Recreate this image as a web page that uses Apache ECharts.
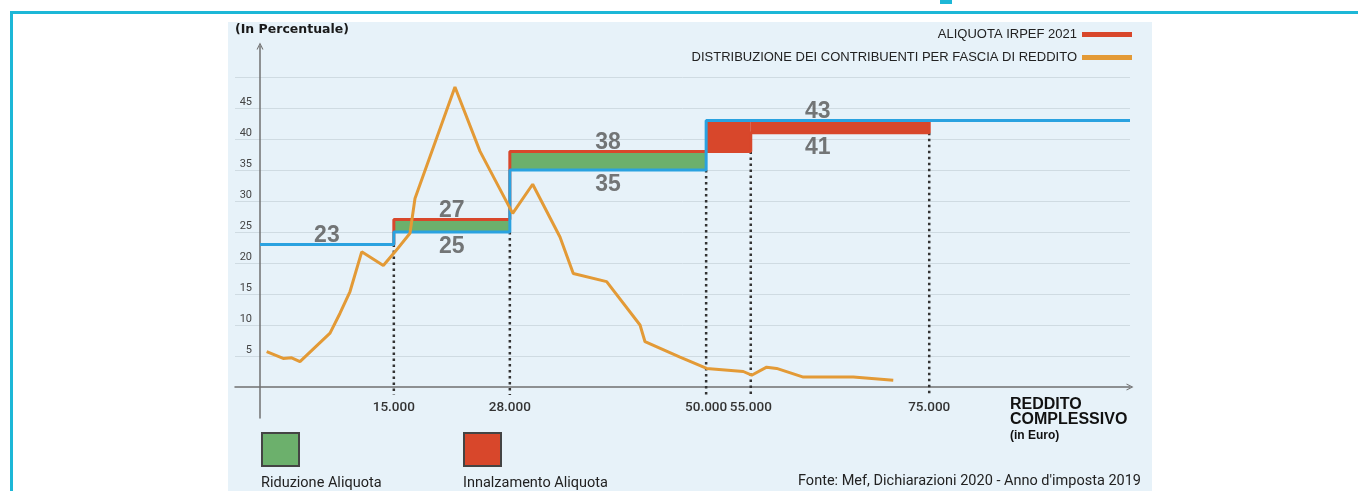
<!DOCTYPE html>
<html>
<head>
<meta charset="utf-8">
<script src="https://cdn.jsdelivr.net/npm/echarts@6.0.0/dist/echarts.min.js"></script>
<style>
  html, body { margin: 0; padding: 0; background: #ffffff; }
  #chart { width: 1358px; height: 491px; }
</style>
</head>
<body>
<div id="chart"></div>
<script>
// reddito (euro) dove cambiano gli scaglioni
const xBreaks = [15000, 28000, 50000, 55000, 75000];
// aliquota IRPEF 2021 (rossa) e nuova aliquota (blu), come gradini [reddito, %]
const oldRate = [[0, 23], [15000, 27], [28000, 38], [55000, 41], [75000, 43], [97500, 43]];
const newRate = [[0, 23], [15000, 25], [28000, 35], [50000, 43], [97500, 43]];
// fasce: [da, a, aliquota bassa, aliquota alta]
const riduzione = [[15000, 28000, 25, 27], [28000, 50000, 35, 38]];
const innalzamento = [[50000, 55000, 38, 43], [55000, 75000, 41, 43]];
// linee tratteggiate verticali [reddito, fino a %]
const guides = [[15000, 23], [28000, 25], [50000, 35], [55000, 38], [75000, 41]];
// etichette delle aliquote [reddito, %]
const labelsUp = [[7500, 23], [21500, 27], [39000, 38], [62500, 43]];
const labelsDown = [[21500, 25], [39000, 35], [62500, 41]];
// distribuzione dei contribuenti per fascia di reddito [reddito, %]
const income = [
  [750, 5.7], [2600, 4.6], [3550, 4.7], [4480, 4.1], [7850, 8.7], [8970, 11.9],
  [10090, 15.4], [11400, 21.8], [13820, 19.6], [15130, 21.8], [16810, 24.8],
  [17370, 30.4], [21850, 48.4], [24660, 38.0], [28320, 28.0], [30560, 32.7],
  [33620, 24.2], [35110, 18.3], [38850, 17.0], [42590, 10.0], [43150, 7.3],
  [47070, 4.8], [50060, 3.0], [54160, 2.5], [55100, 1.9], [56780, 3.2],
  [57900, 3.0], [60890, 1.6], [66490, 1.6], [70970, 1.1]
];
const yLabels = [5, 10, 15, 20, 25, 30, 35, 40, 45];

const RED = '#d8472b';
const BLUE = '#2aa2e0';
const ORANGE = '#e39a36';
const GREEN = '#6cb06c';
const FONT = 'Roboto, "Liberation Sans", sans-serif';
const chevron = 'path://M0,10 L5,0 L10,10 L8.4,10 L5,3.2 L1.6,10 Z';

// colori delle linee di griglia: -5, 0 e 55 nascoste
const gridColors = [];
for (let v = -5; v <= 55; v += 5) {
  gridColors.push(v <= 0 || v > 50 ? 'rgba(0,0,0,0)' : '#cfdbe2');
}

const myChart = echarts.init(document.getElementById('chart'));

function bandRenderer(color) {
  return function (params, api) {
    const p0 = api.coord([api.value(0), api.value(3)]);
    const p1 = api.coord([api.value(1), api.value(2)]);
    return {
      type: 'rect',
      shape: { x: p0[0], y: p0[1], width: p1[0] - p0[0], height: p1[1] - p0[1] },
      style: { fill: color }
    };
  };
}

myChart.setOption({
  animation: false,
  textStyle: { fontFamily: FONT },
  graphic: [
    // pannello azzurro
    { type: 'rect', left: 228, top: 22, z: -10, shape: { width: 924, height: 469 }, style: { fill: '#e7f2f9' } },
    // cornice
    { type: 'rect', left: 10, top: 11, shape: { width: 1348, height: 3 }, style: { fill: '#1db7d7' } },
    { type: 'rect', left: 10, top: 11, shape: { width: 3, height: 480 }, style: { fill: '#1db7d7' } },
    { type: 'rect', left: 940, top: 0, shape: { width: 12, height: 4 }, style: { fill: '#1db7d7' } },
    {
      type: 'text', left: 235, top: 23,
      style: { text: '(In Percentuale)', font: 'bold 12.5px "DejaVu Sans", sans-serif', fill: '#1a1a1a' }
    },
    {
      type: 'text', left: 1010, top: 397,
      style: { text: 'REDDITO\nCOMPLESSIVO', font: 'bold 16px "Liberation Sans", sans-serif', lineHeight: 15, fill: '#111' }
    },
    {
      type: 'text', left: 1010, top: 430,
      style: { text: '(in Euro)', font: 'bold 12px "Liberation Sans", sans-serif', fill: '#111' }
    },
    {
      type: 'text', right: 217, top: 474,
      style: { text: "Fonte: Mef, Dichiarazioni 2020 - Anno d'imposta 2019", font: '14.5px Roboto, sans-serif', fill: '#222' }
    },
    // legenda delle fasce
    { type: 'rect', left: 261, top: 432, shape: { width: 37, height: 33 }, style: { fill: GREEN, stroke: '#444', lineWidth: 2 } },
    { type: 'rect', left: 463, top: 432, shape: { width: 37, height: 33 }, style: { fill: RED, stroke: '#444', lineWidth: 2 } },
    { type: 'text', left: 261, top: 476, style: { text: 'Riduzione Aliquota', font: '14.5px Roboto, sans-serif', fill: '#222' } },
    { type: 'text', left: 463, top: 476, style: { text: 'Innalzamento Aliquota', font: '14.5px Roboto, sans-serif', fill: '#222' } }
  ],
  legend: {
    data: ['ALIQUOTA IRPEF 2021', 'DISTRIBUZIONE DEI CONTRIBUENTI PER FASCIA DI REDDITO'],
    orient: 'vertical',
    align: 'right',
    right: 226,
    top: 28,
    padding: 0,
    itemWidth: 50,
    itemHeight: 5,
    itemGap: 10,
    icon: 'rect',
    selectedMode: false,
    textStyle: { fontSize: 13, color: '#222', fontFamily: '"Liberation Sans", sans-serif' }
  },
  grid: { left: 235, right: 228, top: 46, bottom: 73, containLabel: false },
  xAxis: {
    type: 'value',
    min: -2800,
    max: 97500,
    offset: -31,
    axisLine: {
      onZero: false,
      symbol: ['none', chevron],
      symbolSize: [12, 7],
      lineStyle: { color: '#707070', width: 1.5 }
    },
    axisTick: { show: false },
    splitLine: { show: false },
    axisLabel: {
      customValues: xBreaks,
      margin: 14,
      fontSize: 13.5,
      fontWeight: 500,
      color: '#333',
      formatter: function (v) { return (v / 1000) + '.000'; }
    }
  },
  yAxis: {
    type: 'value',
    min: -5,
    max: 55,
    interval: 5,
    offset: -25,
    axisLine: {
      onZero: false,
      symbol: ['none', chevron],
      symbolSize: [13, 7],
      lineStyle: { color: '#707070', width: 1.5 }
    },
    axisTick: { show: false },
    splitLine: { show: true, lineStyle: { color: gridColors, width: 1 } },
    axisLabel: {
      margin: 8,
      fontSize: 11,
      color: '#444',
      verticalAlign: 'bottom',
      formatter: function (v) { return yLabels.indexOf(v) >= 0 ? String(v) : ''; }
    }
  },
  series: [
    {
      name: 'riduzione',
      type: 'custom',
      renderItem: bandRenderer(GREEN),
      encode: { x: [0, 1], y: [2, 3] },
      data: riduzione,
      z: 1,
      silent: true
    },
    {
      name: 'innalzamento',
      type: 'custom',
      renderItem: bandRenderer(RED),
      encode: { x: [0, 1], y: [2, 3] },
      data: innalzamento,
      z: 1,
      silent: true
    },
    {
      name: 'guide',
      type: 'custom',
      renderItem: function (params, api) {
        const top = api.coord([api.value(0), api.value(1)]);
        const bottom = api.coord([api.value(0), -1.3]);
        return {
          type: 'line',
          shape: { x1: top[0], y1: top[1], x2: bottom[0], y2: bottom[1] },
          style: { stroke: '#333', lineWidth: 2.5, lineDash: [2.5, 3.5] }
        };
      },
      encode: { x: 0, y: 1 },
      data: guides,
      z: 1,
      silent: true
    },
    {
      name: 'ALIQUOTA IRPEF 2021',
      type: 'line',
      step: 'end',
      data: oldRate,
      showSymbol: false,
      color: RED,
      lineStyle: { color: RED, width: 3 },
      z: 2
    },
    {
      name: 'nuova aliquota',
      type: 'line',
      step: 'end',
      data: newRate,
      showSymbol: false,
      color: BLUE,
      lineStyle: { color: BLUE, width: 3 },
      z: 3
    },
    {
      name: 'DISTRIBUZIONE DEI CONTRIBUENTI PER FASCIA DI REDDITO',
      type: 'line',
      data: income,
      showSymbol: false,
      color: ORANGE,
      lineStyle: { color: ORANGE, width: 3 },
      z: 4
    },
    {
      name: 'etichette sopra',
      type: 'scatter',
      data: labelsUp,
      symbolSize: 0,
      z: 5,
      label: {
        show: true,
        position: 'top',
        distance: -3,
        fontSize: 23,
        fontWeight: 'bold',
        color: '#555',
        fontFamily: '"Liberation Sans", sans-serif',
        formatter: function (p) { return p.value[1]; }
      }
    },
    {
      name: 'etichette sotto',
      type: 'scatter',
      data: labelsDown,
      symbolSize: 0,
      z: 5,
      label: {
        show: true,
        position: 'bottom',
        distance: 3,
        fontSize: 23,
        fontWeight: 'bold',
        color: '#555',
        fontFamily: '"Liberation Sans", sans-serif',
        formatter: function (p) { return p.value[1]; }
      }
    }
  ]
});
</script>
</body>
</html>
